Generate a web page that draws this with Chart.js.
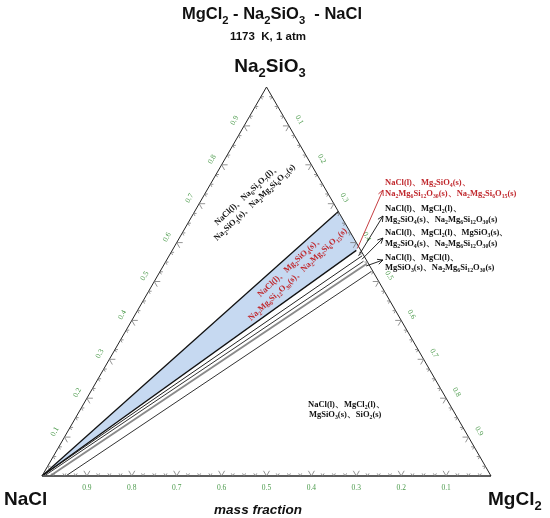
<!DOCTYPE html>
<html>
<head>
<meta charset="utf-8">
<script src="https://cdn.jsdelivr.net/npm/chart.js@4.4.0/dist/chart.umd.min.js"></script>
<style>
body{margin:0;background:#fff}
</style>
</head>
<body>
<canvas id="ternary" width="550" height="518"></canvas>
<script>
// compositions are [MgCl2, Na2SiO3] mass fractions, NaCl is the rest
var H = Math.sqrt(3) / 2;
var corners = [[0, 0], [1, 0], [0, 1]];
var blueField = [[0, 0], [0.32, 0.68], [0.41, 0.59], [0.41, 0.58]];
var tieStart = [[0, 0], [0, 0], [0, 0], [0.005, 0], [0.018, 0], [0.053, 0]];
var tieEnd = [[0.32, 0.68], [0.41, 0.58], [0.43, 0.566], [0.44, 0.552], [0.45, 0.545], [0.47, 0.525]];
var tieColor = ['#111', '#111', '#222', '#333', '#8a8a8a', '#333'];
var tieWidth = [1.3, 1.3, 1, 1, 2, 1];
var tickValues = [0.1, 0.2, 0.3, 0.4, 0.5, 0.6, 0.7, 0.8, 0.9];
var tickLabels = ['0.1', '0.2', '0.3', '0.4', '0.5', '0.6', '0.7', '0.8', '0.9'];
// arrow tails (points inside each small field)
var arrowFrom = [[0.41, 0.585], [0.422, 0.566], [0.434, 0.557], [0.452, 0.54]];
var arrowColor = ['#c0282d', '#111', '#111', '#111'];

var sideLabels = [
  {color: '#c0282d', lines: ['NaCl(l)、Mg2SiO4(s)、', 'Na2Mg6Si12O30(s)、Na2Mg2Si6O15(s)'], y: [184.5, 196]},
  {color: '#111', lines: ['NaCl(l)、MgCl2(l)、', 'Mg2SiO4(s)、Na2Mg6Si12O30(s)'], y: [210.5, 222]},
  {color: '#111', lines: ['NaCl(l)、MgCl2(l)、MgSiO3(s)、', 'Mg2SiO4(s)、Na2Mg6Si12O30(s)'], y: [235, 246]},
  {color: '#111', lines: ['NaCl(l)、MgCl(l)、', 'MgSiO3(s)、Na2Mg6Si12O30(s)'], y: [259.5, 270]}
];
var arrowTo = [[383, 190], [383, 216], [383, 238], [383, 260]];

function toXY(p) { return {x: p[0] + p[1] / 2, y: p[1] * H}; }

function drawRich(ctx, str, x, y, size, tpl, color, align) {
  var parts = str.split(/(\d+)/);
  var fBase = tpl.replace('{s}', size), fSub = tpl.replace('{s}', (size * 0.68).toFixed(2));
  var w = 0, ws = [];
  for (var i = 0; i < parts.length; i++) {
    ctx.font = (i % 2) ? fSub : fBase;
    ws.push(ctx.measureText(parts[i]).width);
    w += ws[i];
  }
  var cx = x;
  if (align === 'center') cx = x - w / 2;
  if (align === 'right') cx = x - w;
  ctx.fillStyle = color;
  ctx.textAlign = 'left';
  ctx.textBaseline = 'alphabetic';
  for (var j = 0; j < parts.length; j++) {
    ctx.font = (j % 2) ? fSub : fBase;
    ctx.fillText(parts[j], cx, (j % 2) ? y + size * 0.28 : y);
    cx += ws[j];
  }
}

var decor = {
  id: 'decor',
  afterDatasetsDraw: function(chart) {
    var ctx = chart.ctx;
    var sx = chart.scales.x, sy = chart.scales.y;
    function px(m, s) { return [sx.getPixelForValue(m + s / 2), sy.getPixelForValue(s * H)]; }
    ctx.save();
    // tick marks
    ctx.strokeStyle = '#777';
    ctx.lineWidth = 0.8;
    for (var k = 1; k < 40; k++) {
      var v = k / 40, len = (k % 4 === 0) ? 6 : 3;
      var sets = [
        [px(v, 0), [[0.5, -H], [-0.5, -H]]],
        [px(0, v), [[1, 0], [0.5, H]]],
        [px(v, 1 - v), [[-1, 0], [-0.5, H]]]
      ];
      sets.forEach(function(t) {
        t[1].forEach(function(d) {
          ctx.beginPath();
          ctx.moveTo(t[0][0], t[0][1]);
          ctx.lineTo(t[0][0] + d[0] * len, t[0][1] + d[1] * len);
          ctx.stroke();
        });
      });
    }
    // tick labels
    ctx.fillStyle = '#4b9a4b';
    ctx.font = "7.5px 'Liberation Serif'";
    ctx.textAlign = 'center';
    ctx.textBaseline = 'middle';
    tickValues.forEach(function(v, i) {
      var b = px(1 - v, 0);
      ctx.fillText(tickLabels[i], b[0], b[1] + 12);
      var l = px(0, v);
      ctx.save();
      ctx.translate(l[0] - 11 * H, l[1] - 11 * 0.5);
      ctx.rotate(-Math.PI / 3);
      ctx.fillText(tickLabels[i], 0, 0);
      ctx.restore();
      var r = px(v, 1 - v);
      ctx.save();
      ctx.translate(r[0] + 12 * H, r[1] - 12 * 0.5);
      ctx.rotate(Math.PI / 3);
      ctx.fillText(tickLabels[i], 0, 0);
      ctx.restore();
    });
    // arrows
    arrowFrom.forEach(function(a, i) {
      var p = px(a[0], a[1]), q = arrowTo[i];
      ctx.strokeStyle = arrowColor[i];
      ctx.lineWidth = 0.9;
      ctx.beginPath();
      ctx.moveTo(p[0], p[1]);
      ctx.lineTo(q[0], q[1]);
      var ang = Math.atan2(q[1] - p[1], q[0] - p[0]);
      ctx.moveTo(q[0] - 6 * Math.cos(ang - 0.45), q[1] - 6 * Math.sin(ang - 0.45));
      ctx.lineTo(q[0], q[1]);
      ctx.lineTo(q[0] - 6 * Math.cos(ang + 0.45), q[1] - 6 * Math.sin(ang + 0.45));
      ctx.stroke();
    });
    var serif = "bold {s}px 'Liberation Serif'";
    sideLabels.forEach(function(lb) {
      lb.lines.forEach(function(t, j) { drawRich(ctx, t, 385, lb.y[j], 8.5, serif, lb.color, 'left'); });
    });
    // field labels
    function block(lines, cx, cy, ang, color) {
      ctx.save();
      ctx.translate(cx, cy);
      ctx.rotate(ang);
      lines.forEach(function(t, j) { drawRich(ctx, t, 0, (j - 0.5) * 11 + 3, 8.5, serif, color, 'center'); });
      ctx.restore();
    }
    var rot = -43 * Math.PI / 180;
    block(['NaCl(l)、Na6Si2O7(l)、', 'Na2SiO3(s)、Na2Mg2Si6O15(s)'], 250.5, 198, rot, '#111');
    block(['NaCl(l)、Mg2SiO4(s)、', 'Na2Mg6Si12O30(s)、Na2Mg2Si6O15(s)'], 293.5, 270, rot, '#c0282d');
    drawRich(ctx, 'NaCl(l)、MgCl2(l)、', 308, 406.5, 8.5, serif, '#111', 'left');
    drawRich(ctx, 'MgSiO3(s)、SiO2(s)', 309, 416.5, 8.5, serif, '#111', 'left');
    // titles and corners
    var sans = "bold {s}px 'Liberation Sans'";
    drawRich(ctx, 'MgCl2 - Na2SiO3  - NaCl', 272, 19, 16.5, sans, '#111', 'center');
    ctx.font = "bold 11.5px 'Liberation Sans'";
    ctx.fillStyle = '#111';
    ctx.textAlign = 'center';
    ctx.textBaseline = 'alphabetic';
    ctx.fillText('1173  K, 1 atm', 268, 39.5);
    drawRich(ctx, 'Na2SiO3', 270, 72, 19, sans, '#111', 'center');
    drawRich(ctx, 'NaCl', 4, 505, 19, sans, '#111', 'left');
    drawRich(ctx, 'MgCl2', 488, 505, 19, sans, '#111', 'left');
    ctx.font = "italic bold 13.5px 'Liberation Sans'";
    ctx.fillStyle = '#111';
    ctx.textAlign = 'center';
    ctx.fillText('mass fraction', 258, 514);
    ctx.restore();
  }
};

var datasets = [];
datasets.push({
  data: [corners[2], corners[0]].map(toXY).concat([toXY(corners[1]), toXY(corners[2])]),
  borderColor: '#222', borderWidth: 1, order: 1
});
datasets.push({
  data: [toXY(corners[0]), toXY(corners[1])],
  borderColor: '#9a9a9a', borderWidth: 2, order: 1
});
for (var i = 0; i < tieStart.length; i++) {
  datasets.push({
    data: [toXY(tieStart[i]), toXY(tieEnd[i])],
    borderColor: tieColor[i], borderWidth: tieWidth[i], order: 2
  });
}
datasets.push({
  data: blueField.map(toXY),
  borderWidth: 0, borderColor: 'rgba(0,0,0,0)',
  backgroundColor: '#c6d9f1', fill: 'shape', order: 10
});

new Chart(document.getElementById('ternary'), {
  type: 'scatter',
  data: {datasets: datasets},
  options: {
    responsive: false,
    animation: false,
    devicePixelRatio: 1,
    showLine: true,
    datasets: {scatter: {showLine: true, pointRadius: 0, clip: false}},
    layout: {padding: {left: 42, right: 59, top: 87, bottom: 42}},
    scales: {
      x: {type: 'linear', min: 0, max: 1, display: false},
      y: {type: 'linear', min: 0, max: H, display: false}
    },
    plugins: {legend: {display: false}, tooltip: {enabled: false}}
  },
  plugins: [decor]
});
</script>
</body>
</html>
